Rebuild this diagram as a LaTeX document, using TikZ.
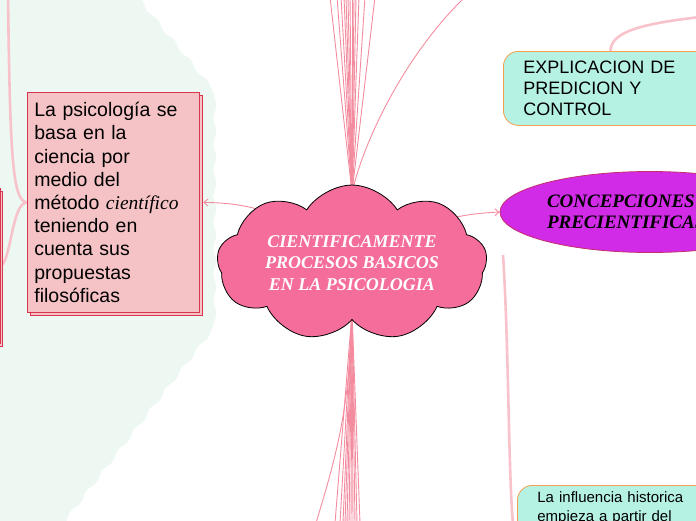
\documentclass[tikz,border=0pt]{standalone}
\usepackage{fontspec}
\setmainfont{Liberation Sans}
\newfontfamily\titlefont{Liberation Serif}
\usetikzlibrary{shapes.symbols, shapes.geometric, arrows.meta, shadows, decorations.pathmorphing}

\pgfdeclarelayer{backdrop}
\pgfdeclarelayer{links}
\pgfsetlayers{backdrop,links,main}

\begin{document}
\begin{tikzpicture}[x=1pt, y=-1pt,
    link/.style={draw=fanColour, line width=0.9pt},
    branch/.style={draw=branchColour, line width=2.6pt},
    tip/.style={-{Straight Barb[length=4pt, width=7pt]}},
    rosecard/.style={draw=roseBorder, fill=roseFill, line width=0.8pt,
        copy shadow={shadow xshift=2.5pt, shadow yshift=-2.5pt}},
    mintbox/.style={draw=mintBorder, fill=mintFill, line width=0.8pt,
        rounded corners=15pt, align=left, inner xsep=20pt,
        font=\fontsize{18}{21}\selectfont},
    fancy/.style={font=\titlefont\bfseries\itshape\fontsize{#1}{21.5}\selectfont}]

    \definecolor{greenBack}{HTML}{EEF8F3}
    \definecolor{fanColour}{HTML}{F38C9E}
    \definecolor{branchColour}{HTML}{F8C2CB}
    \definecolor{roseFill}{HTML}{F5C3C6}
    \definecolor{roseBorder}{HTML}{D8354E}
    \definecolor{cloudFill}{HTML}{F46D9B}
    \definecolor{mintFill}{HTML}{B6F2E3}
    \definecolor{mintBorder}{HTML}{F4A04E}
    \definecolor{conceptFill}{HTML}{D22BE8}
    \definecolor{conceptBorder}{HTML}{C32E6A}

    \useasboundingbox (0,0) rectangle (696,520);

    % Pale green area on the left
    \begin{pgfonlayer}{backdrop}
        \fill[greenBack, decoration={snake, segment length=26pt, amplitude=1.5pt}, decorate]
            (-20,-10) -- (127,-10) -- (207,88) -- (207,320) -- (45,530) -- (-20,530) -- cycle;
    \end{pgfonlayer}

    % Central cloud
    \node[cloud, cloud puffs=9, cloud puff arc=115, aspect=2.1, minimum width=270pt,
        minimum height=126pt, inner sep=0pt, draw=black, line width=0.8pt,
        fill=cloudFill, text=white, align=center, fancy=18] (core) at (352,263)
        {CIENTIFICAMENTE\\PROCESOS BASICOS\\EN LA PSICOLOGIA};

    % Pink note on the left and the box cut by the edge
    \node[rosecard, anchor=north west, text width=158pt, inner xsep=7pt,
        minimum height=220pt, align=left, font=\fontsize{19.5}{23.2}\selectfont] (lbox) at (27,92)
        {La psicología se\\basa en la\\ciencia por\\medio del\\método {\titlefont\itshape científico}\\teniendo en\\cuenta sus\\propuestas\\filosóficas};
    \node[rosecard, anchor=north east, minimum width=150pt, minimum height=155pt] (lpart) at (0.5,188) {};

    % Mint boxes on the right
    \node[mintbox, anchor=north west, text width=174pt, minimum height=74pt] (expl) at (503,51)
        {EXPLICACION DE\\PREDICION Y\\CONTROL};
    \node[mintbox, anchor=north west, text width=200pt, text depth=90pt, inner ysep=6pt,
        font=\fontsize{15}{19}\selectfont] (infl) at (517,485)
        {La influencia historica\\empieza a partir del};

    % Magenta ellipse
    \node[ellipse, draw=conceptBorder, fill=conceptFill, line width=0.8pt, minimum width=300pt,
        minimum height=81pt, inner sep=0pt, text width=206pt, align=left, fancy=19] (concept) at (650,212)
        {CONCEPCIONES\\PRECIENTIFICAS};

    \begin{pgfonlayer}{links}
        % Arrows out of the cloud
        \draw[link, tip] (core.center) .. controls (290,212) and (250,203) .. ([xshift=3.5pt]lbox.east);
        \draw[link, tip] (core.center) .. controls (420,220) and (460,214) .. (concept.west);

        % Fan of links going up
        \foreach \x in {330,337,341,344,346,348,350,352,354,356,359,365,375} {
            \coordinate (up-\x) at (\x,-3);
            \draw[link] ([yshift=-8pt]core.north) -- (up-\x);
        }
        \coordinate (upCurve) at (465,-3);
        \draw[link] ([yshift=-8pt]core.north) .. controls (364,140) and (405,55) .. (upCurve);

        % Fan of links going down
        \foreach \x in {335,340,343,345,347,349,351,353,355,357,360} {
            \coordinate (down-\x) at (\x,523);
            \draw[link] ([yshift=8pt]core.south) -- (down-\x);
        }
        \coordinate (downCurve) at (316,523);
        \draw[link] ([yshift=8pt]core.south) .. controls (350,410) and (335,460) .. (downCurve);

        % Light branches
        \coordinate (leftTop) at (8,-5);
        \draw[branch] (leftTop) .. controls (10,150) and (12,202) .. (lbox.west);
        \draw[branch] (lbox.west) .. controls (12,202) and (11,262) .. (lpart.east);
        \coordinate (descTop) at (503,255);
        \draw[branch] (descTop) .. controls (510,360) and (508,540) .. (infl.west);
        \coordinate (upRight) at (700,17);
        \draw[branch] (expl.north) .. controls (611,32) and (640,24) .. (upRight);
    \end{pgfonlayer}

\end{tikzpicture}
\end{document}
